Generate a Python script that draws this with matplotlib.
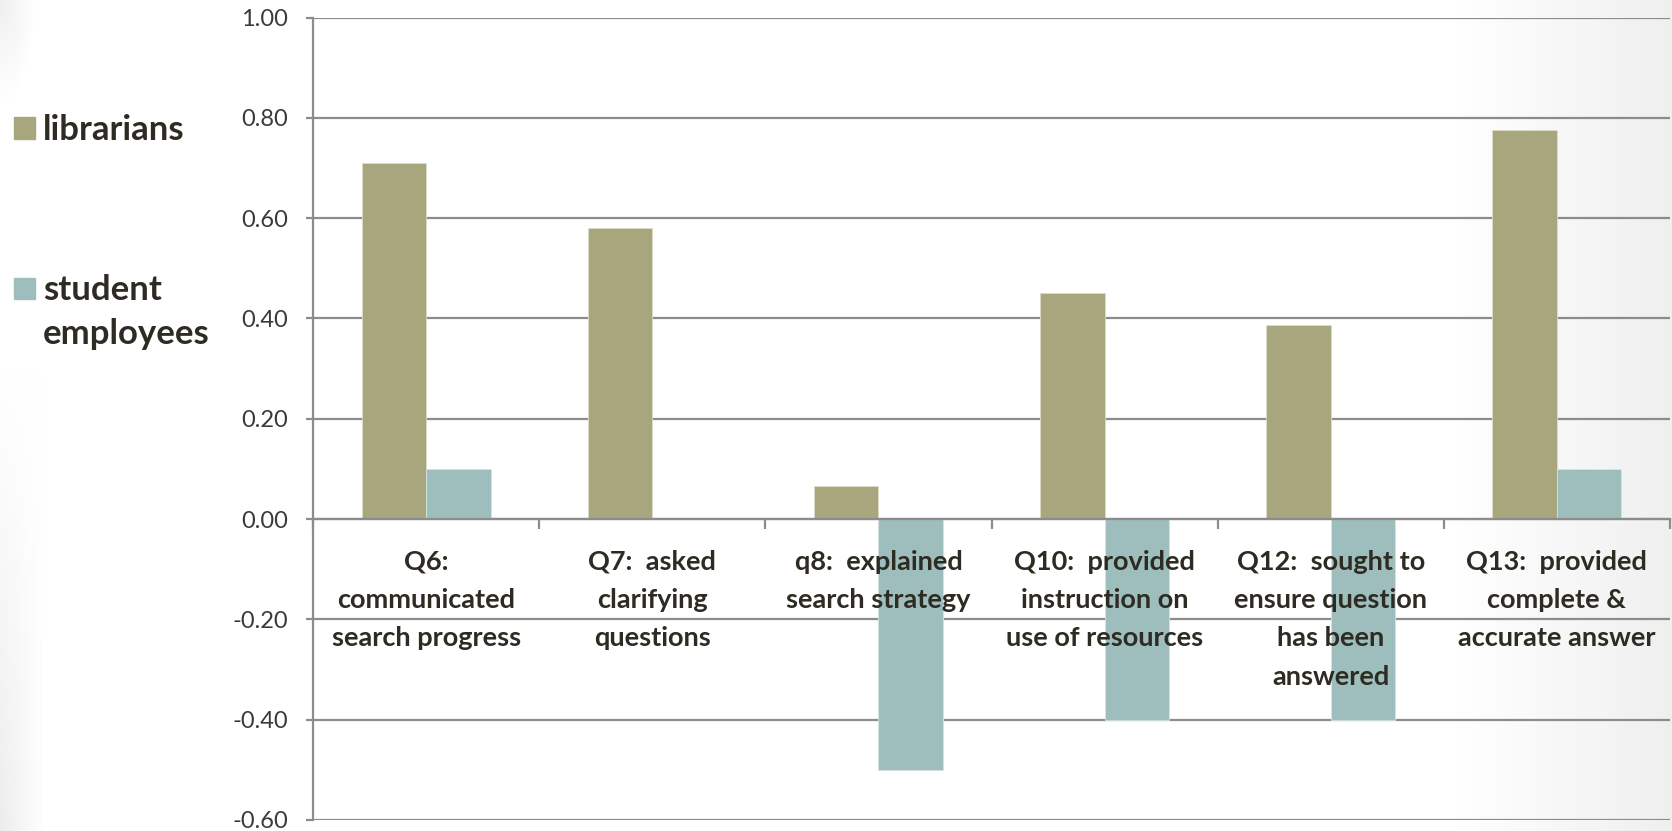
import numpy as np
import matplotlib.pyplot as plt
from matplotlib.patches import Rectangle
from matplotlib.ticker import FormatStrFormatter

categories = ["Q6:\ncommunicated\nsearch progress",
              "Q7:  asked\nclarifying\nquestions",
              "q8:  explained\nsearch strategy",
              "Q10:  provided\ninstruction on\nuse of resources",
              "Q12:  sought to\nensure question\nhas been\nanswered",
              "Q13:  provided\ncomplete &\naccurate answer"]
librarians = [0.71, 0.58, 0.065, 0.45, 0.387, 0.775]
students = [0.10, 0.0, -0.50, -0.40, -0.40, 0.10]
series_names = ['librarians', 'student\nemployees']
colors = ['#A8A67C', '#9DBEBD']

plt.rcParams['font.family'] = ['Lato', 'DejaVu Sans']

fig = plt.figure(figsize=(16.72, 8.31), dpi=100)

# fondo con un ligero degradado gris a los lados
bg = fig.add_axes([0, 0, 1, 1], zorder=-10)
xx = np.linspace(0, 1, 400)
yy = np.linspace(0, 1, 200)
X, Y = np.meshgrid(xx, yy)
right = np.clip((X - 0.87) / 0.13, 0, 1) * 0.06
left = np.clip((0.025 - X) / 0.025, 0, 1) * np.clip((Y - 0.45) / 0.55, 0, 1) * 0.07
corner = np.clip(1 - np.hypot(X / 0.02, Y / 0.12), 0, 1) * 0.06
shade = 1 - right - left - corner
bg.imshow(np.dstack([shade, shade, shade]), aspect='auto', extent=[0, 1, 0, 1], origin='upper')
bg.axis('off')

ax = fig.add_axes([313 / 1672, 1 - 820 / 831, (1670 - 313) / 1672, (820 - 17.5) / 831])
ax.patch.set_alpha(0)

x = np.arange(len(categories))
w = 0.285
grid_c = '#8C8C8C'
ax.bar(x - w / 2, librarians, w, color=colors[0], edgecolor='#DEDCC8', linewidth=0.6)
ax.bar(x + w / 2, students, w, color=colors[1], edgecolor='#D6E4E3', linewidth=0.6)

ax.set_xlim(-0.5, 5.5)
ax.set_ylim(-0.6, 1.0)
ax.set_yticks(np.linspace(-0.6, 1.0, 9))
ax.yaxis.set_major_formatter(FormatStrFormatter('%.2f'))
ax.yaxis.grid(True, color=grid_c, linewidth=1.6)
ax.set_axisbelow(True)
ax.xaxis.set_zorder(3)

for s in ['top', 'right']:
    ax.spines[s].set_visible(False)
ax.spines['left'].set_color(grid_c)
ax.spines['left'].set_linewidth(1.6)
ax.spines['bottom'].set_position(('data', 0))
ax.spines['bottom'].set_color(grid_c)
ax.spines['bottom'].set_linewidth(1.6)

ax.set_xticks(x)
ax.set_xticklabels(categories, fontsize=19.5, fontweight='bold', color='#2E2B22', linespacing=1.72)
ax.set_xticks(np.arange(-0.5, 5.6, 1.0), minor=True)
ax.tick_params(axis='x', which='major', length=0, pad=22)
ax.tick_params(axis='x', which='minor', length=7, width=1.6, color=grid_c, direction='out')
ax.tick_params(axis='y', length=5, width=1.6, color=grid_c, labelsize=17, labelcolor='#3A3A3A', pad=13)

# leyenda a la izquierda (cuadro alineado con la primera línea)
leg_y = [128, 288]
for name, c, yc in zip(series_names, colors, leg_y):
    fig.patches.append(Rectangle((14 / 1672, 1 - (yc + 10.5) / 831), 21 / 1672, 21 / 831,
                                 transform=fig.transFigure, color=c))
    fig.text(43 / 1672, 1 - (yc - 14) / 831, name, fontsize=25, fontweight='bold',
             color='#2E2B22', va='top', ha='left', linespacing=1.45)

plt.savefig('out.png', dpi=100)
